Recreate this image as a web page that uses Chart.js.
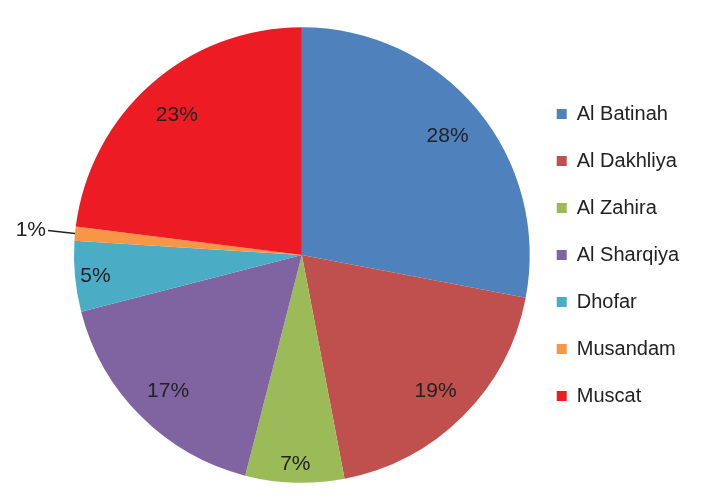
<!DOCTYPE html>
<html>
<head>
<meta charset="utf-8">
<script src="https://cdn.jsdelivr.net/npm/chart.js@4/dist/chart.umd.min.js"></script>
<style>
  html, body { margin: 0; padding: 0; background: #fff; }
  #wrap { width: 703px; height: 503px; }
</style>
</head>
<body>
<div id="wrap"><canvas id="mychart" width="703" height="503"></canvas></div>
<script>
let regions = ['Al Batinah', 'Al Dakhliya', 'Al Zahira', 'Al Sharqiya', 'Dhofar', 'Musandam', 'Muscat'];
let shares  = [28, 19, 7, 17, 5, 1, 23];
let colors  = ['#4f81bd', '#c0504d', '#9bbb59', '#8064a2', '#4bacc6', '#f79646', '#ed1c24'];

const FONT = '"Liberation Sans", Arial, sans-serif';

// draws the percentage labels, tiny slices get a leader line outside
const pctLabels = {
  id: 'pctLabels',
  afterDatasetsDraw(chart) {
    let ctx = chart.ctx;
    let arcs = chart.getDatasetMeta(0).data;
    ctx.save();
    ctx.font = '21px ' + FONT;
    ctx.fillStyle = '#222';
    ctx.strokeStyle = '#222';
    ctx.textBaseline = 'middle';
    arcs.forEach((arc, i) => {
      let v = shares[i];
      let mid = (arc.startAngle + arc.endAngle) / 2;
      let R = arc.outerRadius;
      let label = v + '%';
      if (v < 3) {
        let ex = arc.x + Math.cos(mid) * R;
        let ey = arc.y + Math.sin(mid) * R;
        let lx = ex - 27, ly = ey - 3;
        ctx.lineWidth = 1.5;
        ctx.beginPath();
        ctx.moveTo(ex, ey);
        ctx.lineTo(lx, ly);
        ctx.stroke();
        ctx.textAlign = 'right';
        ctx.fillText(label, lx - 2, ly);
      } else {
        let f = v < 8 ? 0.91 : 0.83;
        ctx.textAlign = 'center';
        ctx.fillText(label, arc.x + Math.cos(mid) * R * f, arc.y + Math.sin(mid) * R * f + 2);
      }
    });
    ctx.restore();
  }
};

let ctx = document.getElementById('mychart').getContext('2d');
let myChart = new Chart(ctx, {
  type: 'pie',
  data: {
    labels: regions,
    datasets: [{
      data: shares,
      backgroundColor: colors,
      borderWidth: 0,
      hoverOffset: 0
    }]
  },
  options: {
    responsive: false,
    animation: false,
    layout: { padding: { top: 27, bottom: 20, left: 74, right: 14 } },
    plugins: {
      tooltip: { enabled: false },
      legend: {
        position: 'right',
        labels: {
          boxWidth: 10,
          boxHeight: 10,
          padding: 27,
          color: '#222',
          font: { family: FONT, size: 20 }
        }
      }
    }
  },
  plugins: [pctLabels]
});
</script>
</body>
</html>
